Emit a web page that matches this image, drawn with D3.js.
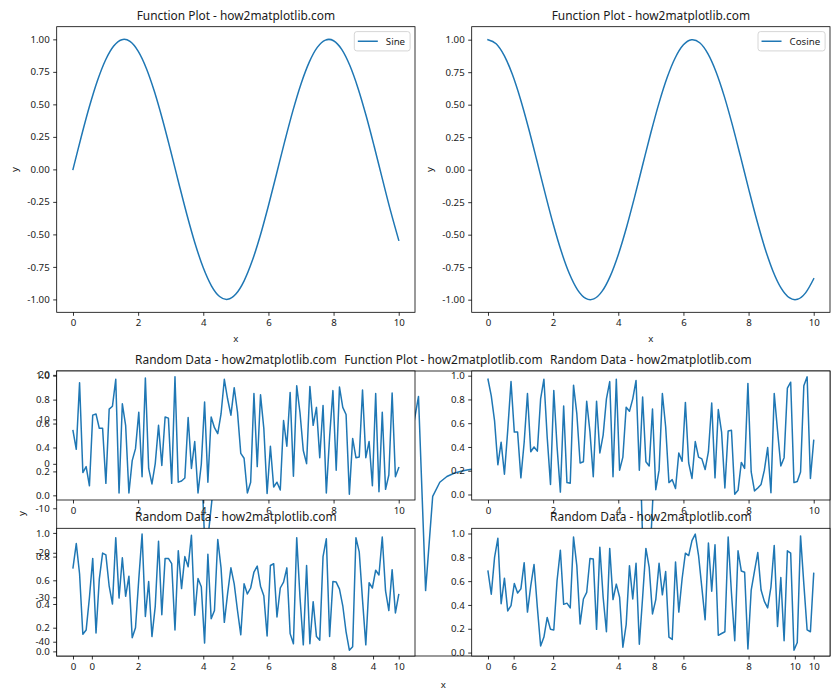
<!DOCTYPE html>
<html>
<head>
<meta charset="utf-8">
<script src="https://cdn.jsdelivr.net/npm/d3@7"></script>
<style>
  body { margin: 0; background: #fff; }
  svg { display: block; }
  text { font-family: "Noto Sans", "DejaVu Sans", sans-serif; fill: #1a1a1a; }
</style>
</head>
<body>
<svg id="chart" width="840" height="700"></svg>
<script>
// ---- data ----
var waveX = [0, 0.25, 0.5, 0.75, 1, 1.25, 1.5, 1.75, 2, 2.25, 2.5, 2.75, 3, 3.25, 3.5, 3.75, 4, 4.25, 4.5, 4.75,
             5, 5.25, 5.5, 5.75, 6, 6.25, 6.5, 6.75, 7, 7.25, 7.5, 7.75, 8, 8.25, 8.5, 8.75, 9, 9.25, 9.5, 9.75, 10];
var sineY = [0, 0.2474, 0.4794, 0.6816, 0.8415, 0.9490, 0.9975, 0.9840, 0.9093, 0.7781, 0.5985, 0.3817, 0.1411,
             -0.1082, -0.3508, -0.5716, -0.7568, -0.8950, -0.9775, -0.9993, -0.9589, -0.8589, -0.7055, -0.5083,
             -0.2794, -0.0332, 0.2151, 0.4500, 0.6570, 0.8231, 0.9380, 0.9945, 0.9894, 0.9228, 0.7985, 0.6247,
             0.4121, 0.1739, -0.0752, -0.3195, -0.5440];
var cosineY = [1, 0.9689, 0.8776, 0.7317, 0.5403, 0.3153, 0.0707, -0.1782, -0.4161, -0.6282, -0.8011, -0.9243,
               -0.9900, -0.9941, -0.9365, -0.8206, -0.6536, -0.4461, -0.2108, 0.0376, 0.2837, 0.5122, 0.7087,
               0.8612, 0.9602, 0.9994, 0.9766, 0.8930, 0.7539, 0.5679, 0.3466, 0.1038, -0.1455, -0.3857,
               -0.6020, -0.7807, -0.9111, -0.9848, -0.9972, -0.9476, -0.8391];

// 100 samples between 0 and 10
var sampleX = d3.range(100).map(function(i) { return i * 10 / 99; });

var tanY = [0, 0.1014, 0.2048, 0.3126, 0.4280, 0.5523, 0.6945, 0.8547, 1.0495, 1.283,
            1.593, 2.018, 2.667, 3.79, 6.33, 17.96, -22.0, -6.78, -3.96, -2.755,
            -2.073, -1.629, -1.312, -1.071, -0.8705, -0.7090, -0.5666, -0.4397, -0.3240, -0.2156,
            -0.1118, -0.0103, 0.0910, 0.1941, 0.3013, 0.4157, 0.5402, 0.6789, 0.8378, 1.0257,
            1.257, 1.557, 1.967, 2.586, 3.642, 5.935, 15.15, -28.5, -7.30, -4.14,
            -2.843, -2.129, -1.667, -1.340, -1.093, -0.8891, -0.7237, -0.5806, -0.4522, -0.3354,
            -0.2263, -0.1222, -0.0206, 0.0806, 0.1834, 0.2903, 0.4035, 0.5267, 0.6635, 0.8200,
            1.0043, 1.230, 1.521, 1.919, 2.509, 3.501, 5.583, 13.10, -40.3, -7.91,
            -4.33, -2.939, -2.188, -1.707, -1.370, -1.115, -0.9088, -0.7399, -0.5935, -0.4643,
            -0.3469, -0.2372, -0.1327, -0.0309, 0.0702, 0.1729, 0.2792, 0.3915, 0.5131, 0.6484];

var randomTopLeft = [0.54, 0.385, 0.94, 0.19, 0.24, 0.08, 0.67, 0.68, 0.56, 0.56,
  0.10, 0.72, 0.745, 0.97, 0.02, 0.765, 0.585, 0.02, 0.29, 0.39,
  0.695, 0.155, 0.98, 0.225, 0.095, 0.265, 0.585, 0.25, 0.655, 0.645,
  0.10, 0.99, 0.11, 0.12, 0.145, 0.65, 0.225, 0.45, 0.02, 0.26,
  0.78, 0.11, 0.655, 0.565, 0.515, 0.68, 0.97, 0.805, 0.67, 0.90,
  0.695, 0.35, 0.31, 0.02, 0.11, 0.85, 0.24, 0.84, 0.56, 0.015,
  0.41, 0.07, 0.11, 0.045, 0.625, 0.41, 0.86, 0.16, 0.915, 0.69,
  0.375, 0.265, 0.91, 0.585, 0.735, 0.315, 0.75, 0.02, 0.49, 0.875,
  0.21, 0.905, 0.735, 0.675, 0.01, 0.475, 0.315, 0.32, 0.88, 0.315,
  0.45, 0.08, 0.85, 0.03, 0.695, 0.05, 0.17, 0.855, 0.155, 0.23];

var randomTopRight = [0.97, 0.83, 0.62, 0.25, 0.44, 0.17, 0.54, 0.95, 0.525, 0.525,
  0.14, 0.44, 0.85, 0.36, 0.40, 0.365, 0.805, 0.97, 0.48, 0.085,
  0.875, 0.40, 0.02, 0.745, 0.10, 0.095, 0.92, 0.68, 0.265, 0.275,
  0.785, 0.525, 0.15, 0.785, 0.35, 0.50, 0.805, 0.95, 0.15, 0.97,
  0.205, 0.315, 0.735, 0.70, 0.805, 0.96, 0.205, 0.82, 0.275, 0.24,
  0.72, 0.04, 0.205, 0.85, 0.57, 0.10, 0.125, 0.05, 0.35, 0.28,
  0.775, 0.265, 0.135, 0.445, 0.315, 0.30, 0.21, 0.36, 0.77, 0.14,
  0.715, 0.525, 0.055, 0.535, 0.54, 0.003, 0.035, 0.27, 0.22, 0.935,
  0.19, 0.03, 0.055, 0.085, 0.205, 0.395, 0.015, 0.85, 0.54, 0.24,
  0.31, 0.895, 0.945, 0.10, 0.11, 0.19, 0.915, 0.99, 0.135, 0.455];

var randomBottomLeft = [0.705, 0.91, 0.655, 0.145, 0.18, 0.455, 0.785, 0.155, 0.61, 0.83,
  0.815, 0.55, 0.40, 0.96, 0.45, 0.79, 0.465, 0.635, 0.115, 0.20,
  0.61, 0.99, 0.295, 0.59, 0.125, 0.38, 0.93, 0.31, 0.785, 0.785,
  0.74, 0.18, 0.85, 0.53, 0.80, 0.715, 0.98, 0.305, 0.615, 0.545,
  0.07, 0.82, 0.275, 0.345, 0.945, 0.705, 0.245, 0.49, 0.705, 0.57,
  0.345, 0.14, 0.57, 0.485, 0.535, 0.67, 0.72, 0.55, 0.47, 0.13,
  0.725, 0.74, 0.29, 0.535, 0.585, 0.705, 0.15, 0.065, 0.96, 0.455,
  0.055, 0.725, 0.065, 0.42, 0.125, 0.095, 0.80, 0.95, 0.125, 0.59,
  0.585, 0.525, 0.385, 0.165, 0.01, 0.04, 0.96, 0.84, 0.435, 0.055,
  0.58, 0.535, 0.685, 0.645, 0.965, 0.51, 0.345, 0.69, 0.325, 0.48];

var randomBottomRight = [0.685, 0.49, 0.80, 0.96, 0.41, 0.625, 0.35, 0.395, 0.58, 0.50,
  0.535, 0.755, 0.34, 0.56, 0.74, 0.38, 0.055, 0.13, 0.295, 0.195,
  0.19, 0.605, 0.86, 0.405, 0.415, 0.375, 0.97, 0.73, 0.24, 0.45,
  0.505, 0.79, 0.785, 0.195, 0.885, 0.465, 0.175, 0.875, 0.445, 0.575,
  0.465, 0.045, 0.235, 0.73, 0.45, 0.75, 0.07, 0.465, 0.875, 0.715,
  0.325, 0.445, 0.75, 0.485, 0.68, 0.13, 0.11, 0.76, 0.34, 0.62,
  0.835, 0.815, 0.94, 0.995, 0.815, 0.545, 0.275, 0.92, 0.515, 0.905,
  0.145, 0.16, 0.175, 0.97, 0.50, 0.10, 0.855, 0.685, 0.675, 0.03,
  0.525, 0.685, 0.84, 0.525, 0.43, 0.375, 0.55, 0.90, 0.22, 0.63,
  0.10, 0.855, 0.835, 0.02, 0.085, 0.98, 0.575, 0.19, 0.175, 0.665];

var xTicks = [0, 2, 4, 6, 8, 10];
var waveTicks = [-1, -0.75, -0.5, -0.25, 0, 0.25, 0.5, 0.75, 1];
var randomTicks = [0, 0.2, 0.4, 0.6, 0.8, 1];
var tanTicks = [-40, -30, -20, -10, 0, 10, 20];

var titleText = "Function Plot - how2matplotlib.com";
var randomTitle = "Random Data - how2matplotlib.com";

// ---- drawing ----
var svg = d3.select("#chart");
var blue = "#1f77b4";
var tickFont = 9.7, titleFont = 11.9;
var clipCount = 0;

function fmt(spec) {
  var f = d3.format(spec);
  return function(d) { return f(d).replace("\u2212", "-"); };
}

function drawAxes(o) {
  var x = d3.scaleLinear().domain([-0.5, 10.5]).range([o.left, o.right]);
  var ext = d3.extent(o.y);
  var pad = (ext[1] - ext[0]) * 0.05;
  var y = d3.scaleLinear().domain([ext[0] - pad, ext[1] + pad]).range([o.bottom, o.top]);
  var w = o.right - o.left, h = o.bottom - o.top;
  var g = svg.append("g");

  var id = "clip" + (clipCount++);
  g.append("clipPath").attr("id", id)
   .append("rect").attr("x", o.left).attr("y", o.top).attr("width", w).attr("height", h);

  g.append("rect").attr("x", o.left).attr("y", o.top).attr("width", w).attr("height", h)
   .attr("fill", "#fff");

  var line = d3.line()
    .x(function(d) { return x(d[0]); })
    .y(function(d) { return y(d[1]); })
    .curve(o.curve || d3.curveLinear);

  g.append("path")
   .datum(o.x.map(function(d, i) { return [d, o.y[i]]; }))
   .attr("clip-path", "url(#" + id + ")")
   .attr("fill", "none")
   .attr("stroke", blue)
   .attr("stroke-width", 1.5)
   .attr("stroke-linejoin", "round")
   .attr("stroke-linecap", "square")
   .attr("d", line);

  g.append("rect").attr("x", o.left).attr("y", o.top).attr("width", w).attr("height", h)
   .attr("fill", "none").attr("stroke", "#000").attr("stroke-width", 0.8);

  var xa = g.append("g").attr("transform", "translate(0," + o.bottom + ")")
    .call(d3.axisBottom(x).tickValues(xTicks).tickFormat(fmt("d")).tickSize(3.5).tickPadding(3.5));
  var ya = g.append("g").attr("transform", "translate(" + o.left + ",0)")
    .call(d3.axisLeft(y).tickValues(o.yTicks).tickFormat(fmt(o.yFormat)).tickSize(3.5).tickPadding(3.5));
  [xa, ya].forEach(function(a) {
    a.select(".domain").remove();
    a.attr("font-family", null).attr("font-size", null);
    a.selectAll("line").attr("stroke", "#000").attr("stroke-width", 0.8);
    a.selectAll("text").attr("fill", "#1a1a1a").style("font-size", tickFont + "px");
  });

  g.append("text")
   .attr("x", (o.left + o.right) / 2)
   .attr("y", o.top - 7)
   .attr("text-anchor", "middle")
   .style("font-size", titleFont + "px")
   .text(o.title);

  if (o.xlabel) {
    g.append("text")
     .attr("x", (o.left + o.right) / 2).attr("y", o.xlabelY)
     .attr("text-anchor", "middle").style("font-size", tickFont + "px")
     .text(o.xlabel);
  }
  if (o.ylabel) {
    g.append("text")
     .attr("transform", "translate(" + o.ylabelX + "," + (o.top + o.bottom) / 2 + ")rotate(-90)")
     .attr("text-anchor", "middle").style("font-size", tickFont + "px")
     .text(o.ylabel);
  }

  if (o.legend) {
    var lg = g.append("g");
    var box = lg.append("rect");
    var label = lg.append("text").style("font-size", tickFont + "px").text(o.legend);
    var tw = label.node().getComputedTextLength();
    var bw = 3.5 + 20 + 8 + tw + 5, bh = 19.3;
    var bx = o.right - 4.9 - bw, by = o.top + 4.9;
    box.attr("x", bx).attr("y", by).attr("width", bw).attr("height", bh)
       .attr("rx", 2.5).attr("fill", "#fff").attr("fill-opacity", 0.8)
       .attr("stroke", "#cccccc").attr("stroke-width", 0.8);
    lg.append("line")
      .attr("x1", bx + 3.5).attr("x2", bx + 23.5)
      .attr("y1", by + bh / 2).attr("y2", by + bh / 2)
      .attr("stroke", blue).attr("stroke-width", 1.5);
    label.attr("x", bx + 31.5).attr("y", by + bh / 2 + 3.4);
  }
}

var colL = [56.7, 415], colR = [471.7, 830];
var smooth = d3.curveCardinal.tension(0);

// top row: sine and cosine
drawAxes({left: colL[0], right: colL[1], top: 26.7, bottom: 312.3, x: waveX, y: sineY,
  curve: smooth, yTicks: waveTicks, yFormat: ".2f", title: titleText,
  xlabel: "x", xlabelY: 342, ylabel: "y", ylabelX: 17.5, legend: "Sine"});
drawAxes({left: colR[0], right: colR[1], top: 26.7, bottom: 312.3, x: waveX, y: cosineY,
  curve: smooth, yTicks: waveTicks, yFormat: ".2f", title: titleText,
  xlabel: "x", xlabelY: 342, ylabel: "y", ylabelX: 432.5, legend: "Cosine"});

// wide function plot sitting behind the four random panels
drawAxes({left: colL[0], right: colR[1], top: 371, bottom: 656, x: sampleX, y: tanY,
  yTicks: tanTicks, yFormat: "d", title: titleText,
  xlabel: "x", xlabelY: 687.5, ylabel: "y", ylabelX: 24.5});

// random panels
drawAxes({left: colL[0], right: colL[1], top: 371, bottom: 500, x: sampleX, y: randomTopLeft,
  yTicks: randomTicks, yFormat: ".1f", title: randomTitle});
drawAxes({left: colR[0], right: colR[1], top: 371, bottom: 500, x: sampleX, y: randomTopRight,
  yTicks: randomTicks, yFormat: ".1f", title: randomTitle});
drawAxes({left: colL[0], right: colL[1], top: 528.3, bottom: 656, x: sampleX, y: randomBottomLeft,
  yTicks: randomTicks, yFormat: ".1f", title: randomTitle});
drawAxes({left: colR[0], right: colR[1], top: 528.3, bottom: 656, x: sampleX, y: randomBottomRight,
  yTicks: randomTicks, yFormat: ".1f", title: randomTitle});
</script>
</body>
</html>
